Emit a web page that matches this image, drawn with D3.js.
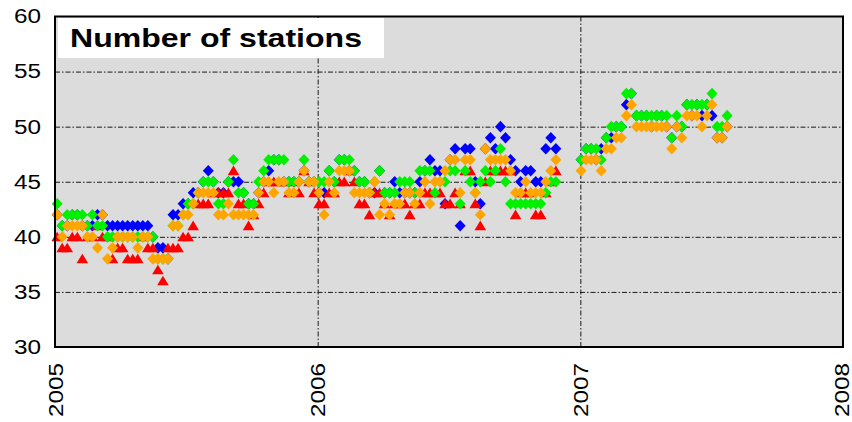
<!DOCTYPE html>
<html>
<head>
<meta charset="utf-8">
<script src="https://cdn.jsdelivr.net/npm/d3@7/dist/d3.min.js"></script>
<style>
  body { margin: 0; background: #ffffff; }
  text { font-family: "Liberation Sans", Arial, Helvetica, sans-serif; fill: #000; }
</style>
</head>
<body>
<svg id="chart" width="852" height="422"></svg>
<script>
// Weekly station counts, one value per week starting 4 Jan 2005 (null = no report)
const firstWeek = new Date(2005, 0, 4);

const blueCounts = [
  42,41,41,42,42,41,41,41,42,42,
  41,41,41,41,41,41,41,41,41,40,
  39,39,38,42,42,43,43,44,44,45,
  46,45,44,44,45,45,45,44,43,43,
  44,45,46,47,47,45,45,45,45,46,
  45,45,44,44,46,45,47,47,46,46,
  45,45,44,44,46,44,44,45,44,44,
  44,44,45,46,47,46,46,43,47,48,
  41,48,48,45,43,48,49,48,50,49,
  47,46,45,46,46,45,45,48,49,48,
  null,null,null,null,47,48,48,47,48,49,
  49,50,50,52,53,51,51,51,50,51,
  51,50,49,50,50,52,51,52,51,52,
  51,49,49,50
];

const redCounts = [
  40,39,39,40,40,38,40,40,41,40,
  40,38,39,39,38,38,38,40,39,39,
  37,36,39,39,39,40,40,41,43,43,
  43,44,44,44,44,46,43,43,41,42,
  43,44,45,45,45,45,44,45,44,46,
  45,44,43,43,44,44,45,45,46,45,
  43,43,42,44,44,43,42,43,43,43,
  42,43,43,44,44,44,44,43,43,44,
  43,46,46,43,41,45,46,46,46,46,
  46,42,44,44,44,42,42,44,45,46,
  null,null,null,null,null,null,null,null,null,null,
  null,null,null,null,null,null,null,null,null,null,
  null,null,null,null,null,null,null,null,null,null,
  null,null,null,null
];

const greenCounts = [
  43,41,42,42,42,42,41,42,41,41,
  40,40,40,40,40,40,40,40,40,40,
  38,38,38,41,41,42,43,43,44,45,
  45,45,43,43,45,47,44,44,43,43,
  45,46,47,47,47,47,45,45,45,47,
  45,45,45,45,46,45,47,47,47,46,
  45,45,44,45,46,44,44,44,45,45,
  45,44,46,46,46,44,45,45,46,46,
  43,46,45,44,45,46,45,46,48,45,
  43,43,43,43,43,43,43,44,45,45,
  null,null,null,null,47,48,48,48,47,49,
  50,50,50,53,53,51,51,51,51,51,
  51,51,49,51,50,52,52,52,52,52,
  53,50,50,51
];

const orangeCounts = [
  42,40,41,41,41,41,40,40,39,42,
  38,39,40,40,40,40,39,40,40,38,
  38,38,38,41,41,42,42,43,44,44,
  44,44,42,42,43,42,42,42,42,42,
  44,45,45,44,45,45,44,44,45,46,
  45,45,44,42,45,44,46,46,46,44,
  44,44,44,45,42,43,42,43,43,44,
  44,43,44,45,43,45,45,46,47,47,
  44,47,47,44,42,48,47,47,47,47,
  46,44,44,45,44,44,44,45,46,47,
  null,null,null,null,46,47,47,47,46,48,
  48,49,49,51,52,50,50,50,50,50,
  50,50,48,50,49,51,51,51,50,51,
  52,49,49,50
];

const yTickValues = [30, 35, 40, 45, 50, 55, 60];
const yGridValues = [35, 40, 45, 50, 55];
const xTickYears = [2005, 2006, 2007, 2008];
const xGridYears = [2006, 2007];
const titleText = "Number of stations";

// Drawing order: blue, red, green, orange (later series sit on top)
const seriesList = [
  { name: "blue",   values: blueCounts,   color: "#0000ff", shape: "diamond" },
  { name: "red",    values: redCounts,    color: "#ff0000", shape: "triangle" },
  { name: "green",  values: greenCounts,  color: "#00f000", shape: "diamond" },
  { name: "orange", values: orangeCounts, color: "#ffa500", shape: "diamond" }
];

const svg = d3.select("#chart");
const plot = { left: 55, right: 843, top: 16.5, bottom: 347 };

const x = d3.scaleTime()
  .domain([new Date(2005, 0, 1), new Date(2008, 0, 1)])
  .range([plot.left, plot.right]);
const y = d3.scaleLinear()
  .domain([30, 60])
  .range([plot.bottom, plot.top]);

const weekDate = i => new Date(firstWeek.getFullYear(), firstWeek.getMonth(), firstWeek.getDate() + 7 * i);

// Plot background
svg.append("rect")
  .attr("x", plot.left).attr("y", plot.top)
  .attr("width", plot.right - plot.left).attr("height", plot.bottom - plot.top)
  .attr("fill", "#dcdcdc");

// Dash-dot grid
const gridStyle = sel => {
  sel.select(".domain").remove();
  sel.selectAll("line")
    .attr("stroke", "#1a1a1a")
    .attr("stroke-width", 1)
    .attr("stroke-dasharray", "5,2,1.5,2");
};
svg.append("g")
  .attr("transform", `translate(${plot.left},0)`)
  .call(d3.axisLeft(y).tickValues(yGridValues).tickSize(-(plot.right - plot.left)).tickFormat(""))
  .call(gridStyle);
svg.append("g")
  .attr("transform", `translate(0,${plot.bottom})`)
  .call(d3.axisBottom(x).tickValues(xGridYears.map(yr => new Date(yr, 0, 1))).tickSize(-(plot.bottom - plot.top)).tickFormat(""))
  .call(gridStyle);

// Markers
const diamondPath = "M0,-5.8L5.5,0L0,5.8L-5.5,0Z";
const trianglePath = "M0,-5.2L5.8,4.4L-5.8,4.4Z";

seriesList.forEach(s => {
  const pts = s.values
    .map((v, i) => ({ date: weekDate(i), value: v }))
    .filter(d => d.value !== null);
  svg.append("g")
    .attr("class", "series-" + s.name)
    .selectAll("path")
    .data(pts)
    .join("path")
    .attr("transform", d => `translate(${x(d.date)},${y(d.value)})`)
    .attr("d", s.shape === "triangle" ? trianglePath : diamondPath)
    .attr("fill", s.color);
});

// Frame
svg.append("rect")
  .attr("x", plot.left).attr("y", plot.top)
  .attr("width", plot.right - plot.left).attr("height", plot.bottom - plot.top)
  .attr("fill", "none").attr("stroke", "#000").attr("stroke-width", 2);

// Y axis labels
const yAxis = svg.append("g")
  .attr("transform", `translate(${plot.left},0)`)
  .call(d3.axisLeft(y).tickValues(yTickValues).tickSize(0).tickPadding(14).tickFormat(d3.format("d")));
yAxis.select(".domain").remove();
yAxis.selectAll("text")
  .attr("font-size", 20)
  .attr("font-family", "'Liberation Sans', Arial, sans-serif")
  .attr("fill", "#000")
  .attr("textLength", 27)
  .attr("lengthAdjust", "spacingAndGlyphs");

// X axis labels, rotated; the last one is nudged so it stays inside the page
const xAxis = svg.append("g")
  .attr("transform", `translate(0,${plot.bottom})`)
  .call(d3.axisBottom(x).tickValues(xTickYears.map(yr => new Date(yr, 0, 1))).tickSize(0).tickFormat(d3.timeFormat("%Y")));
xAxis.select(".domain").remove();
xAxis.selectAll("text")
  .attr("transform", "rotate(-90)")
  .attr("x", -16)
  .attr("y", (d, i, nodes) => i === nodes.length - 1 ? -2 : 0)
  .attr("dy", "0.34em")
  .attr("text-anchor", "end")
  .attr("font-size", 21)
  .attr("font-family", "'Liberation Sans', Arial, sans-serif")
  .attr("fill", "#000")
  .attr("textLength", 54)
  .attr("lengthAdjust", "spacingAndGlyphs");

// Title box
svg.append("rect")
  .attr("x", 58).attr("y", 18)
  .attr("width", 326).attr("height", 40)
  .attr("fill", "#ffffff");
svg.append("text")
  .attr("x", 70).attr("y", 47)
  .attr("font-size", 26)
  .attr("font-weight", "bold")
  .attr("textLength", 292)
  .attr("lengthAdjust", "spacingAndGlyphs")
  .text(titleText);
</script>
</body>
</html>
